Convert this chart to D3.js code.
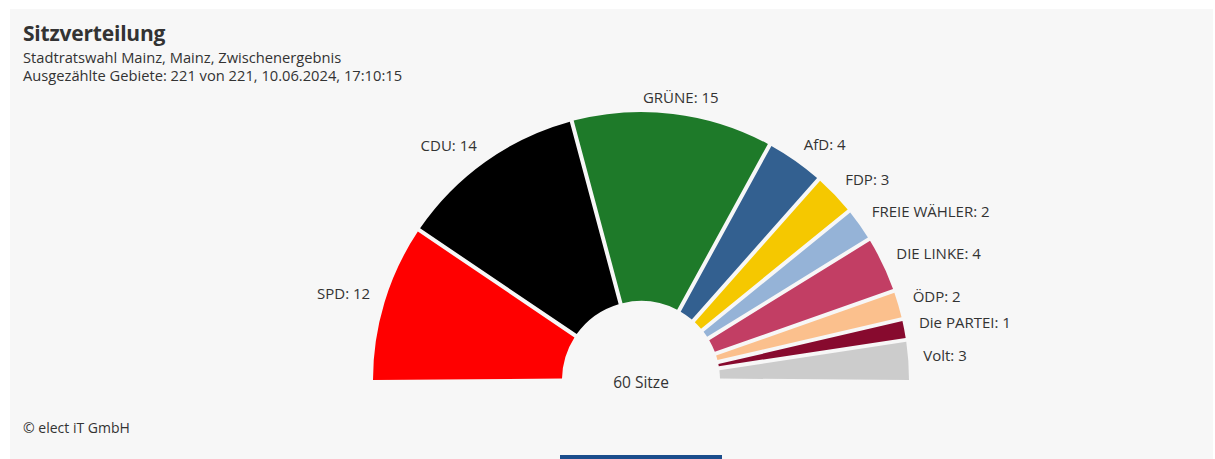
<!DOCTYPE html>
<html><head><meta charset="utf-8">
<script src="https://cdn.jsdelivr.net/npm/d3@7"></script>
<style>
body{margin:0;background:#fff}
svg{display:block}
text{font-family:"Open Sans","Noto Sans",sans-serif}
</style>
</head><body>
<svg id="chart" width="1215" height="459"></svg>
<script>
const parties = ["SPD","CDU","GRÜNE","AfD","FDP","FREIE WÄHLER","DIE LINKE","ÖDP","Die PARTEI","Volt"];
const seats = [12,14,15,4,3,2,4,2,1,3];
// slice sizes (share of the half circle, %)
const shares = [19.1,22.7,24.2,7.1,5.2,4.1,6.8,3.5,2.5,5.0];
const colors = ["#ff0000","#000000","#1e7a29","#336090","#f5c800","#95b3d7","#c23e64","#fbc08d","#870a2e","#cccccc"];
const title = "Sitzverteilung";
const subtitles = ["Stadtratswahl Mainz, Mainz, Zwischenergebnis","Ausgezählte Gebiete: 221 von 221, 10.06.2024, 17:10:15"];
const credit = "© elect iT GmbH";
const seatsWord = "Sitze";

const W = 1215, H = 459;
const svg = d3.select("#chart");

// panel
svg.append("rect").attr("x",10).attr("y",9).attr("width",W-12).attr("height",H-9).attr("fill","#f7f7f7");

// titles
svg.append("text").attr("x",23).attr("y",41).attr("font-size",21).attr("font-weight",700)
  .attr("letter-spacing",-0.2).attr("fill","#333").text(title);
svg.selectAll("text.sub").data(subtitles).join("text").attr("class","sub")
  .attr("x",23).attr("y",(d,i)=>63+i*18).attr("font-size",14.7).attr("fill","#333").text(d=>d);

// pie
const cx = 641, cy = 380, outerR = 268, innerR = 79;
const data = parties.map((p,i)=>({party:p, seats:seats[i], share:shares[i], color:colors[i]}));
const padRadius = Math.sqrt(innerR*innerR + outerR*outerR);
const pad = 4 / padRadius;
const pie = d3.pie().sort(null).value(d=>d.share)
  .startAngle(-Math.PI/2 - pad/2).endAngle(Math.PI/2 + pad/2);
const arcs = pie(data);
const arc = d3.arc().innerRadius(innerR).outerRadius(outerR).padRadius(padRadius).padAngle(pad);

const g = svg.append("g").attr("transform",`translate(${cx},${cy})`);
g.selectAll("path").data(arcs).join("path").attr("d",arc).attr("fill",d=>d.data.color);

// labels: natural position on a circle outside the pie, then de-overlap per half
const labelR = outerR + 15;
const labs = arcs.map(a=>{
  const m = (a.startAngle + a.endAngle)/2;
  return {a, m, right: m > 0, y: -labelR*Math.cos(m)};
});
const minGap = 22;
[true,false].forEach(side=>{
  const L = labs.filter(l=>l.right===side).sort((p,q)=>q.y-p.y);
  for (let i=1;i<L.length;i++){
    if (L[i-1].y - L[i].y < minGap) {
      const mid = (L[i-1].y + L[i].y)/2;
      L[i-1].y = mid + minGap/2; L[i].y = mid - minGap/2;
    }
  }
});
labs.forEach(l=>{
  l.y = Math.max(l.y, -labelR + 5);
  const dx = Math.sqrt(Math.max(0, labelR*labelR - l.y*l.y));
  if (Math.abs(Math.sin(l.m)) < 0.25) { l.x = labelR*Math.sin(l.m) + 6; l.anchor = "middle"; }
  else { l.x = l.right ? dx : -dx; l.anchor = l.right ? "start" : "end"; }
});
g.selectAll("text.lab").data(labs).join("text").attr("class","lab")
  .attr("x",d=>d.x).attr("y",d=>d.y).attr("dy","0.08em")
  .attr("text-anchor",d=>d.anchor).attr("font-size",15).attr("fill","#333")
  .text(d=>`${d.a.data.party}: ${d.a.data.seats}`);

g.append("text").attr("x",0).attr("y",3).attr("dy","0.35em").attr("text-anchor","middle")
  .attr("font-size",15.5).attr("fill","#333").text(`${d3.sum(seats)} ${seatsWord}`);

// credit
svg.append("text").attr("x",23).attr("y",433).attr("font-size",14).attr("fill","#333").text(credit);

// bottom indicator
svg.append("rect").attr("x",cx-81).attr("y",455).attr("width",162).attr("height",4).attr("fill","#1b4d8c");
</script>
</body></html>
